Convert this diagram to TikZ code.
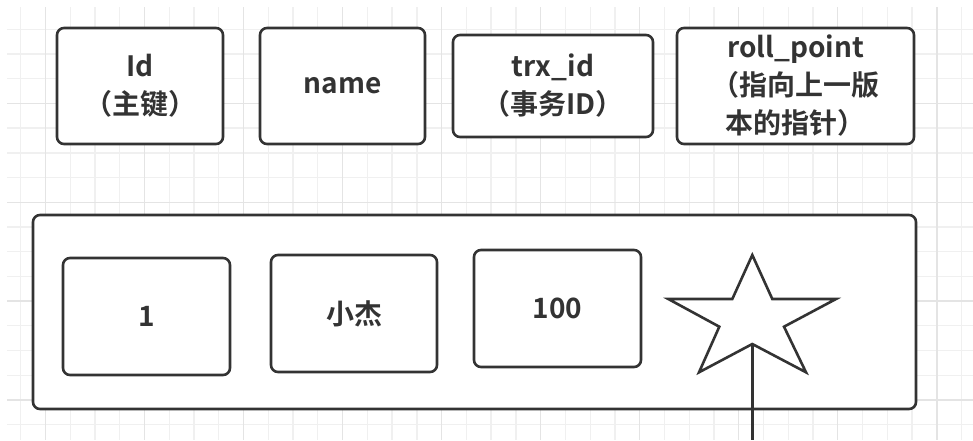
\documentclass[tikz,border=0pt]{standalone}
\usepackage{fontspec}
\setmainfont{Noto Sans CJK SC}[BoldFont={Noto Sans CJK SC Bold}]
\definecolor{ink}{HTML}{333333}
\definecolor{gridminor}{HTML}{F0F0F0}
\definecolor{gridmajor}{HTML}{E4E4E4}
\begin{document}
\begin{tikzpicture}[x=1pt,y=-1pt,
  cell/.style={draw=ink,line width=2.6pt,rounded corners=7pt,fill=white,
    text=ink,font=\bfseries\fontsize{28}{38}\selectfont,align=center,
    inner sep=0pt,outer sep=0pt},
  starline/.style={draw=ink,line width=2.6pt,line join=miter}]
\useasboundingbox (0,0) rectangle (973,440);
\fill[white] (0,0) rectangle (973,440);
% grid
\foreach \k in {0,...,38} {
  \pgfmathsetmacro{\gx}{20.7+24.76*\k}
  \draw[gridminor,line width=1.3pt] (\gx,7) -- (\gx,440);
}
\foreach \k in {0,...,16} {
  \pgfmathsetmacro{\gy}{29.3+24.71*\k}
  \draw[gridminor,line width=1.3pt] (7,\gy) -- (973,\gy);
}
\foreach \k in {0,...,9} {
  \pgfmathsetmacro{\gx}{45.5+99.04*\k}
  \draw[gridmajor,line width=1.3pt] (\gx,7) -- (\gx,440);
}
\foreach \k in {0,...,3} {
  \pgfmathsetmacro{\gy}{103.4+98.84*\k}
  \draw[gridmajor,line width=1.3pt] (7,\gy) -- (973,\gy);
}
% header boxes
\node[cell,minimum width=166pt,minimum height=116pt] (idbox) at (140,86) {Id\\（主键）};
\node[cell,minimum width=165pt,minimum height=116pt] (namebox) at (342.5,86) {name};
\node[cell,minimum width=200pt,minimum height=102pt] (trxbox) at (553,86) {trx\_id\\（事务ID）};
\node[cell,minimum width=237pt,minimum height=116pt] (rollbox) at (795.5,86) {roll\_point\\（指向上一版\\本的指针）};
% record
\node[cell,minimum width=883pt,minimum height=194pt] (record) at (474.5,312) {};
\node[cell,minimum width=167pt,minimum height=117pt] (val1) at (146.5,316.5) {1};
\node[cell,minimum width=166pt,minimum height=117pt] (val2) at (354,313.5) {小杰};
\node[cell,minimum width=167pt,minimum height=117pt] (val3) at (557.5,308.5) {100};
% star
\draw[starline,fill=white] (752.3,255) -- (772.3,299) -- (836,299) -- (784,326.7)
  -- (806,372.3) -- (752.3,344) -- (699,372.3) -- (719.3,326.7) -- (668.3,299)
  -- (732.3,299) -- cycle;
\coordinate (starbottom) at (752.3,344);
\coordinate (lineend) at (752.3,440);
\draw[draw=ink,line width=2.6pt] (starbottom) -- (lineend);
\end{tikzpicture}
\end{document}
